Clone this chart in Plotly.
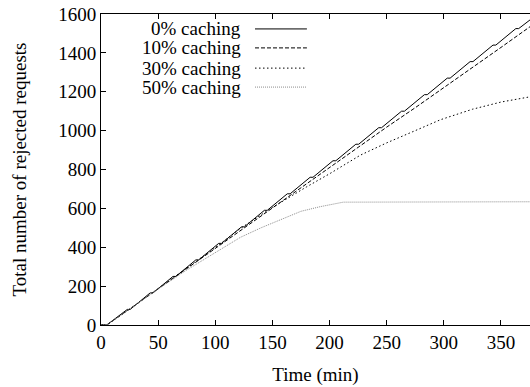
import plotly.graph_objects as go

# Time (min) and cumulative rejected requests for each caching level
t_0 = [0, 5, 23, 25.5, 43, 45.5, 63, 65.5, 83, 85.5, 103, 105.5, 123, 125.5,
       143, 145.5, 163, 165.5, 183, 185.5, 203, 205.5, 223, 225.5, 243, 245.5,
       263, 265.5, 283, 285.5, 303, 305.5, 323, 325.5, 343, 345.5, 363, 365.5, 375.5]
rej_0 = [0, 0, 80, 80, 165, 165, 250, 250, 335, 335, 420, 420, 505, 505,
         590, 590, 675, 675, 760, 760, 845, 845, 930, 930, 1015, 1015,
         1100, 1100, 1185, 1185, 1270, 1270, 1355, 1355, 1440, 1440, 1525, 1525, 1570]

t_10 = [0, 5, 25, 50, 75, 100, 125, 150, 175, 200, 225, 250, 275, 300, 325, 350, 375.5]
rej_10 = [0, 0, 82, 186, 291, 397, 502, 606, 710, 814, 917, 1018, 1118, 1220, 1323, 1428, 1535]

t_30 = [0, 5, 25, 50, 75, 100, 122, 150, 180, 200, 227, 250, 275, 297, 325, 350, 375.5]
rej_30 = [0, 0, 82, 188, 292, 398, 497, 605, 711, 778, 874, 937, 1000, 1056, 1110, 1147, 1174]

t_50 = [0, 5, 25, 50, 75, 100, 122, 140, 157, 175, 192, 200, 212, 375.5]
rej_50 = [0, 0, 82, 185, 283, 372, 451, 500, 540, 585, 609, 618, 632, 634]

series = [
    ("0% caching", t_0, rej_0, "black", "solid"),
    ("10% caching", t_10, rej_10, "black", "4px,2px"),
    ("30% caching", t_30, rej_30, "black", "1.5px,2.5px"),
    ("50% caching", t_50, rej_50, "#8c8c8c", "1px,1px"),
]

x_ticks = [0, 50, 100, 150, 200, 250, 300, 350]
y_ticks = [0, 200, 400, 600, 800, 1000, 1200, 1400, 1600]

FONT = "Liberation Serif"

fig = go.Figure()
for name, t, v, color, dash in series:
    fig.add_trace(go.Scatter(x=t, y=v, mode="lines", name=name,
                             line=dict(color=color, width=1, dash=dash),
                             showlegend=False))

# Key in the upper left: right-aligned labels followed by line samples
row_y = [0.952, 0.891, 0.826, 0.765]
for (name, _, _, color, dash), yy in zip(series, row_y):
    fig.add_annotation(x=0.331, y=yy, xref="paper", yref="paper", text=name,
                       showarrow=False, xanchor="right", yanchor="middle",
                       font=dict(family=FONT, size=19, color="black"))
    fig.add_shape(type="line", xref="paper", yref="paper",
                  x0=0.359, x1=0.480, y0=yy, y1=yy,
                  line=dict(color=color, width=1, dash=dash))

axis_common = dict(showgrid=False, zeroline=False, showline=True,
                   linecolor="black", linewidth=1, ticks="inside", ticklen=5,
                   tickcolor="black", tickwidth=1,
                   tickfont=dict(family=FONT, size=19, color="black"))

fig.update_xaxes(range=[0, 375.4], tickvals=x_ticks, mirror="ticks",
                 title=dict(text="Time (min)", standoff=15,
                            font=dict(family=FONT, size=19, color="black")),
                 **axis_common)
fig.update_yaxes(range=[0, 1600], tickvals=y_ticks, mirror=False,
                 title=dict(text="Total number of rejected requests", standoff=26,
                            font=dict(family=FONT, size=19, color="black")),
                 **axis_common)

fig.update_layout(width=530, height=387, margin=dict(l=101, r=0, t=14, b=62),
                  paper_bgcolor="white", plot_bgcolor="white",
                  font=dict(family=FONT, size=19, color="black"))

fig.write_html("out.html")
